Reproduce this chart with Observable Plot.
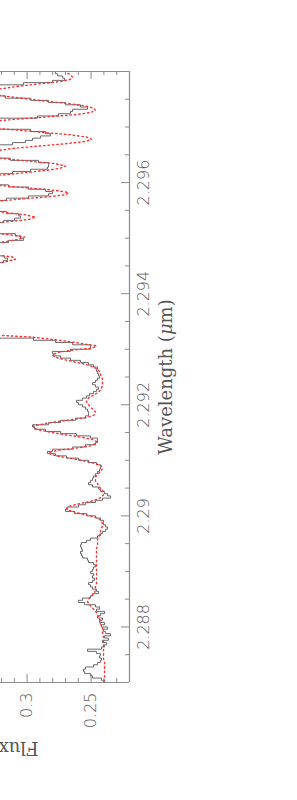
<!DOCTYPE html>
<html><head><meta charset="utf-8">
<script src="https://cdn.jsdelivr.net/npm/d3@7"></script>
<script src="https://cdn.jsdelivr.net/npm/@observablehq/plot@0.6"></script>
<style>html,body{margin:0;padding:0;background:#fff;overflow:hidden;width:297px;height:800px}</style>
</head><body><div id="chart"></div>
<script>
// Spectrum sampled on a regular wavelength grid (micron)
const waveStart = 2.287;
const waveStep = 0.00004;
// Observed flux (histogram), one value per bin
const obsFlux = [
0.2403,0.2419,0.2489,0.2505,0.2551,0.2559,0.2544,0.2481,0.2450,0.2427,
0.2419,0.2434,0.2427,0.2458,0.2528,0.2419,0.2395,0.2379,0.2411,0.2364,
0.2395,0.2348,0.2387,0.2403,0.2372,0.2419,0.2395,0.2434,0.2411,0.2450,
0.2427,0.2395,0.2458,0.2434,0.2466,0.2551,0.2598,0.2567,0.2505,0.2489,
0.2442,0.2458,0.2489,0.2505,0.2520,0.2489,0.2473,0.2489,0.2481,0.2505,
0.2489,0.2481,0.2466,0.2481,0.2520,0.2528,0.2567,0.2575,0.2583,0.2567,
0.2575,0.2583,0.2575,0.2536,0.2505,0.2450,0.2427,0.2411,0.2387,0.2372,
0.2387,0.2403,0.2403,0.2427,0.2466,0.2536,0.2629,0.2700,0.2684,0.2598,
0.2544,0.2466,0.2411,0.2348,0.2372,0.2395,0.2427,0.2442,0.2489,0.2520,
0.2505,0.2489,0.2481,0.2466,0.2450,0.2434,0.2427,0.2427,0.2458,0.2520,
0.2598,0.2692,0.2778,0.2841,0.2802,0.2645,0.2544,0.2466,0.2450,0.2450,
0.2505,0.2614,0.2739,0.2856,0.2942,0.2958,0.2833,0.2739,0.2622,0.2544,
0.2520,0.2520,0.2528,0.2544,0.2567,0.2598,0.2614,0.2567,0.2536,0.2512,
0.2481,0.2458,0.2442,0.2466,0.2489,0.2466,0.2450,0.2434,0.2442,0.2450,
0.2458,0.2450,0.2481,0.2520,0.2583,0.2661,0.2739,0.2794,0.2802,0.2661,
0.2505,0.2505,0.2645,0.2778,0.2950,0.3364,0.3560,0.3755,0.3872,0.3911,
0.3833,0.3794,0.3872,0.3950,0.3989,0.3911,0.3833,0.3872,0.3950,0.3911,
0.3794,0.3755,0.3833,0.3872,0.3794,0.3716,0.3755,0.3833,0.3755,0.3677,
0.3638,0.3716,0.3755,0.3677,0.3598,0.3638,0.3677,0.3560,0.3442,
0.3184,0.3153,0.3177,0.3325,0.3520,0.3638,0.3560,0.3403,0.3247,0.3145,0.3028,
0.3052,0.3091,0.3325,0.3520,0.3638,0.3560,0.3364,0.3184,0.3098,0.3052,
0.3067,0.3161,0.3325,0.3520,0.3638,0.3598,0.3403,0.3161,0.2989,0.2833,
0.2802,0.2856,0.2989,0.3145,0.3325,0.3520,0.3638,0.3560,0.3286,0.3114,
0.2973,0.2841,0.2833,0.2833,0.2911,0.3130,0.3325,0.3520,0.3638,0.3598,
0.3481,0.3286,0.3114,0.3013,0.2958,0.2895,0.2817,0.2856,0.2973,0.3286,
0.3481,0.3598,0.3481,0.3286,0.2919,0.2755,0.2661,0.2645,0.2528,0.2583,
0.2700,0.2833,0.2973,0.3169,0.3325,0.3481,0.3520,0.3364,0.3286,0.3028,
0.2802,0.2708,0.2723,0.2762,0.2778
];
// Model flux (dotted red), at bin centres
const modelFlux = [
0.2395,0.2395,0.2395,0.2395,0.2395,0.2395,0.2395,0.2395,0.2395,0.2395,
0.2403,0.2403,0.2403,0.2403,0.2403,0.2403,0.2403,0.2403,0.2403,0.2403,
0.2403,0.2411,0.2411,0.2411,0.2411,0.2419,0.2427,0.2427,0.2434,0.2442,
0.2450,0.2458,0.2473,0.2489,0.2505,0.2520,0.2528,0.2520,0.2505,0.2489,
0.2473,0.2466,0.2466,0.2466,0.2458,0.2458,0.2458,0.2458,0.2458,0.2458,
0.2458,0.2458,0.2458,0.2458,0.2458,0.2458,0.2458,0.2458,0.2458,0.2458,
0.2458,0.2450,0.2450,0.2450,0.2450,0.2442,0.2434,0.2427,0.2427,0.2419,
0.2411,0.2411,0.2419,0.2434,0.2473,0.2544,0.2614,0.2676,0.2692,0.2661,
0.2590,0.2505,0.2450,0.2419,0.2403,0.2403,0.2411,0.2427,0.2442,0.2450,
0.2466,0.2466,0.2466,0.2450,0.2434,0.2419,0.2411,0.2419,0.2466,0.2536,
0.2622,0.2723,0.2809,0.2833,0.2762,0.2614,0.2505,0.2466,0.2458,0.2497,
0.2583,0.2700,0.2802,0.2895,0.2950,0.2950,0.2864,0.2755,0.2622,0.2520,
0.2473,0.2466,0.2473,0.2497,0.2512,0.2528,0.2536,0.2528,0.2512,0.2473,
0.2450,0.2427,0.2419,0.2411,0.2411,0.2411,0.2411,0.2419,0.2427,0.2427,
0.2442,0.2466,0.2505,0.2567,0.2645,0.2723,0.2786,0.2802,0.2762,0.2661,
0.2489,0.2458,0.2567,0.2676,0.2817,0.2973,0.3286,0.3520,0.3677,0.3794,
0.3872,0.3911,0.3911,0.3872,0.3833,0.3833,0.3872,0.3911,0.3911,0.3872,
0.3833,0.3794,0.3794,0.3833,0.3833,0.3794,0.3755,0.3755,0.3794,0.3755,
0.3716,0.3677,0.3677,0.3716,0.3677,0.3598,0.3520,0.3403,
0.3247,0.3161,0.3091,0.3114,0.3247,0.3442,0.3560,0.3520,0.3403,0.3286,0.3161,0.3067,
0.3020,0.3130,0.3286,0.3481,0.3598,0.3520,0.3325,0.3130,0.2981,0.2934,
0.3013,0.3161,0.3325,0.3520,0.3638,0.3520,0.3247,0.3067,0.2856,0.2700,
0.2676,0.2778,0.2973,0.3169,0.3364,0.3560,0.3638,0.3442,0.3169,0.3013,
0.2848,0.2739,0.2700,0.2778,0.2958,0.3130,0.3286,0.3481,0.3364,0.3223,
0.3091,0.2895,0.2700,0.2544,0.2497,0.2536,0.2661,0.2856,0.3052,0.3247,
0.3442,0.3520,0.3286,0.3091,0.2856,0.2637,0.2505,0.2466,0.2481,0.2544,
0.2661,0.2833,0.2973,0.3114,0.3247,0.3364,0.3325,0.3169,0.3052,0.2895,
0.2739,0.2661,0.2645,0.2661,0.2692
];
const waveDomain = [2.287, 2.298];
const fluxDomain = [0.22, 0.3208];
const waveMajor = [2.288, 2.290, 2.292, 2.294, 2.296];
const waveMajorLabels = ["2.288", "2.29", "2.292", "2.294", "2.296"];
const waveMinor = [2.2875, 2.2885, 2.289, 2.2895, 2.2905, 2.291, 2.2915, 2.2925, 2.293, 2.2935, 2.2945, 2.295, 2.2955, 2.2965, 2.297, 2.2975];
const fluxMajor = [0.25, 0.30];
const fluxMajorLabels = ["0.25", "0.3"];
const fluxMinor = [0.23, 0.24, 0.26, 0.27, 0.28, 0.29, 0.31, 0.32];
const xLabel = "Wavelength (μm)";
const yLabel = "Flux";

const hist = obsFlux.map((f, i) => ({w: waveStart + i * waveStep, f}));
hist.push({w: waveStart + obsFlux.length * waveStep, f: obsFlux[obsFlux.length - 1]});
const model = modelFlux.map((f, i) => ({w: waveStart + (i + 0.5) * waveStep, f}));

const W = 297, H = 800, mL = 0, mR = 168, mT = 71, mB = 118;
const fw = W - mL - mR, fh = H - mT - mB;
const gray = "#8c8c8c";
const sans = "'DejaVu Sans', sans-serif";
const serif = "'DejaVu Serif', serif";

const chart = Plot.plot({
  width: W, height: H,
  marginLeft: mL, marginRight: mR, marginTop: mT, marginBottom: mB,
  x: {domain: fluxDomain, reverse: true, axis: null},
  y: {domain: waveDomain, axis: null},
  style: {background: "#fff"},
  marks: [
    Plot.line(hist, {x: "f", y: "w", curve: "step-before", stroke: "#5a5a5a", strokeWidth: 0.9, clip: true}),
    Plot.line(model, {x: "f", y: "w", stroke: "#ff3030", strokeWidth: 1.4, strokeDasharray: "1.4,3", clip: true}),
    Plot.ruleY(waveDomain, {stroke: gray, strokeWidth: 1.2}),
    Plot.ruleX([fluxDomain[0]], {stroke: gray, strokeWidth: 1.2}),
    Plot.tickY(waveMajor, {y: d => d, insetLeft: fw - 8, stroke: gray}),
    Plot.tickY(waveMinor, {y: d => d, insetLeft: fw - 4, stroke: gray}),
    Plot.tickX(fluxMajor, {x: d => d, insetTop: fh - 8, stroke: gray}),
    Plot.tickX(fluxMinor, {x: d => d, insetTop: fh - 4, stroke: gray}),
    Plot.tickX(fluxMajor, {x: d => d, insetBottom: fh - 8, stroke: gray}),
    Plot.tickX(fluxMinor, {x: d => d, insetBottom: fh - 4, stroke: gray}),
    Plot.text(waveMajor, {y: d => d, text: (d, i) => waveMajorLabels[i], frameAnchor: "right", dx: 14, rotate: -90,
      textAnchor: "middle", lineAnchor: "middle", fontSize: 16, fontFamily: sans, fontWeight: 200, fill: "#555"}),
    Plot.text(fluxMajor, {x: d => d, text: (d, i) => fluxMajorLabels[i], frameAnchor: "bottom", dy: 10, rotate: -90,
      textAnchor: "end", lineAnchor: "middle", fontSize: 16, fontFamily: sans, fontWeight: 200, fill: "#555"}),
    Plot.text([xLabel], {text: d => d, frameAnchor: "right", dx: 37, rotate: -90,
      textAnchor: "middle", lineAnchor: "middle", fontSize: 18, fontFamily: serif, fill: "#555"}),
    Plot.text([yLabel], {text: d => d, frameAnchor: "bottom-left", dx: 18, dy: 65, rotate: 180,
      textAnchor: "middle", lineAnchor: "middle", fontSize: 18, fontFamily: serif, fill: "#555"})
  ]
});
document.getElementById("chart").appendChild(chart);

// italic mu in the wavelength label
chart.querySelectorAll("text").forEach(t => {
  if (t.textContent === xLabel) {
    const ns = "http://www.w3.org/2000/svg";
    t.textContent = "";
    const parts = [["Wavelength (", null], ["μ", "italic"], ["m)", null]];
    for (const [s, st] of parts) {
      const sp = document.createElementNS(ns, "tspan");
      sp.textContent = s;
      if (st) sp.setAttribute("font-style", st);
      t.appendChild(sp);
    }
  }
});
</script>
</body></html>
